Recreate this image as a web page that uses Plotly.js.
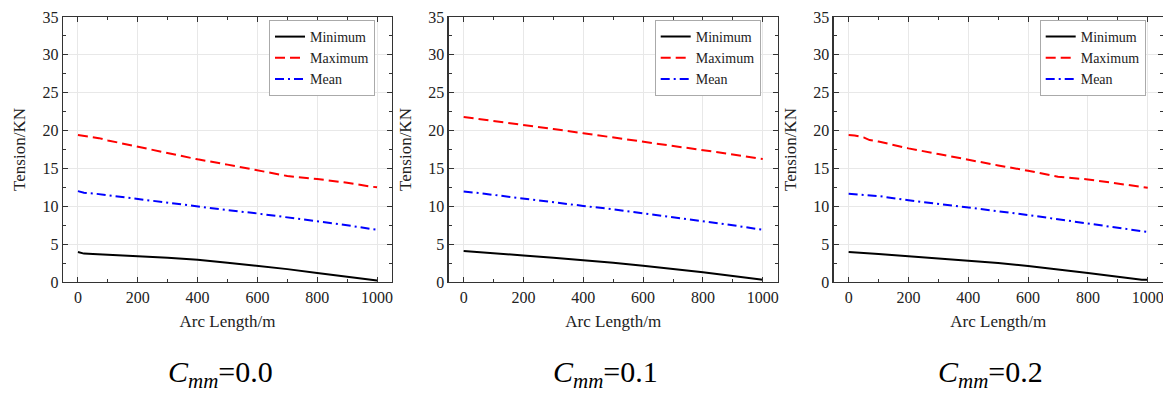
<!DOCTYPE html>
<html>
<head>
<meta charset="utf-8">
<script src="https://cdn.plot.ly/plotly-3.0.1.min.js"></script>
<style>html,body{margin:0;padding:0;background:#fff;}#chart{width:1163px;height:393px;}</style>
</head>
<body>
<div id="chart"></div>
<script>
// Arc length positions (m)
const arcLength = [0, 20, 50, 70, 100, 200, 300, 400, 500, 600, 700, 800, 900, 980, 1000];

// Panel 1: Cmm = 0.0
const min00  = [3.95, 3.75, 3.7, 3.65, 3.6, 3.4, 3.2, 2.95, 2.55, 2.15, 1.7, 1.2, 0.7, 0.25, 0.2];
const max00  = [19.4, 19.3, 19.1, 19.0, 18.7, 17.9, 17.0, 16.2, 15.5, 14.8, 14.0, 13.6, 13.1, 12.6, 12.5];
const mean00 = [12.0, 11.8, 11.7, 11.6, 11.45, 10.95, 10.5, 10.0, 9.5, 9.05, 8.55, 8.05, 7.5, 7.0, 6.9];

// Panel 2: Cmm = 0.1
const min01  = [4.1, 4.05, 3.95, 3.9, 3.8, 3.5, 3.2, 2.9, 2.55, 2.15, 1.75, 1.3, 0.8, 0.35, 0.3];
const max01  = [21.8, 21.7, 21.55, 21.45, 21.25, 20.7, 20.2, 19.65, 19.1, 18.55, 18.0, 17.45, 16.85, 16.35, 16.25];
const mean01 = [11.95, 11.9, 11.75, 11.65, 11.5, 11.0, 10.55, 10.05, 9.6, 9.1, 8.6, 8.1, 7.5, 7.0, 6.9];

// Panel 3: Cmm = 0.2
const min02  = [3.97, 3.9, 3.85, 3.8, 3.7, 3.4, 3.1, 2.82, 2.5, 2.12, 1.7, 1.2, 0.7, 0.3, 0.3];
const max02  = [19.4, 19.35, 19.1, 18.75, 18.55, 17.65, 16.9, 16.1, 15.4, 14.7, 13.9, 13.55, 13.0, 12.5, 12.45];
const mean02 = [11.65, 11.6, 11.5, 11.45, 11.35, 10.8, 10.35, 9.85, 9.35, 8.85, 8.3, 7.75, 7.2, 6.7, 6.6];

const seriesNames = ["Minimum", "Maximum", "Mean"];
const captions = ["0.0", "0.1", "0.2"];
const xTitle = "Arc Length/m";
const yTitle = "Tension/KN";

const panels = [
  [min00, max00, mean00],
  [min01, max01, mean01],
  [min02, max02, mean02]
];

const W = 1163, H = 393;
const FONT = "Liberation Serif";
const TXT = "#222222";
const styles = [
  {color: "#000000", dash: "solid"},
  {color: "#ff0000", dash: "10px,5px"},
  {color: "#0000ff", dash: "9px,4px,2px,4px"}
];
const xLeft = [63, 448.7, 833.7];
const plotW = 329;
const yTop = 17, yBot = 282;

const traces = [];
const layout = {
  width: W, height: H,
  margin: {l: 0, r: 0, t: 0, b: 0},
  paper_bgcolor: "#ffffff",
  plot_bgcolor: "#ffffff",
  font: {family: FONT, color: TXT, size: 16},
  annotations: [],
  showlegend: true
};

panels.forEach((p, i) => {
  const sfx = i === 0 ? "" : String(i + 1);
  p.forEach((vals, j) => {
    traces.push({
      type: "scatter", mode: "lines",
      x: arcLength, y: vals,
      name: seriesNames[j],
      xaxis: "x" + sfx, yaxis: "y" + sfx,
      legend: "legend" + sfx,
      line: {color: styles[j].color, dash: styles[j].dash, width: 2},
      hoverinfo: "skip"
    });
  });
  const dx = [xLeft[i] / W, (xLeft[i] + plotW) / W];
  const dy = [(H - yBot) / H, (H - yTop) / H];
  const common = {
    showline: true, linecolor: "#333333", linewidth: 1.3, mirror: "allticks",
    ticks: "inside", ticklen: 5, tickwidth: 1, tickcolor: "#333333",
    showgrid: true, gridcolor: "#e8e8e8", gridwidth: 1,
    zeroline: false, ticklabeloverflow: "allow",
    tickfont: {family: FONT, size: 16, color: TXT},
    minor: {ticks: "inside", ticklen: 3, tickcolor: "#333333", showgrid: false}
  };
  layout["xaxis" + sfx] = Object.assign({}, common, {
    domain: dx, anchor: "y" + sfx,
    range: [-50, 1050], tickmode: "linear", tick0: 0, dtick: 200,
    minor: Object.assign({}, common.minor, {dtick: 100}),
    title: {text: xTitle, font: {family: FONT, size: 17, color: TXT}, standoff: 10}
  });
  layout["yaxis" + sfx] = Object.assign({}, common, {
    domain: dy, anchor: "x" + sfx,
    range: [0, 35], tickmode: "linear", tick0: 0, dtick: 5,
    minor: Object.assign({}, common.minor, {dtick: 2.5}),
    title: {text: yTitle, font: {family: FONT, size: 17, color: TXT}, standoff: 12}
  });
  layout["legend" + sfx] = {
    x: (xLeft[i] + plotW - 17) / W, xanchor: "right",
    y: (H - 20) / H, yanchor: "top",
    bgcolor: "#ffffff", bordercolor: "#aaaaaa", borderwidth: 1,
    font: {family: FONT, size: 14, color: TXT},
    tracegroupgap: 0, itemwidth: 30
  };
  layout.annotations.push({
    xref: "paper", yref: "paper",
    x: (xLeft[i] + 157) / W, y: (H - 374) / H,
    xanchor: "center", yanchor: "middle",
    showarrow: false,
    text: "<i>C<sub>mm</sub></i>=" + captions[i],
    font: {family: FONT, size: 30, color: "#000000"}
  });
});

Plotly.newPlot("chart", traces, layout, {displayModeBar: false, staticPlot: true});
</script>
</body>
</html>
